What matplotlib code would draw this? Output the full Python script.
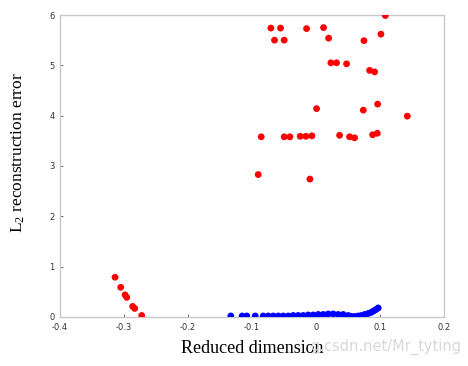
import numpy as np
import matplotlib
matplotlib.use('Agg')
import matplotlib.pyplot as plt

plt.rcParams['mathtext.fontset'] = 'custom'
plt.rcParams['mathtext.rm'] = 'Liberation Serif'
plt.rcParams['mathtext.it'] = 'Liberation Serif:italic'

# red points: high reconstruction error
red_x = [-0.0705, -0.0554, -0.0648, -0.0497, -0.0147, 0.0118, 0.0197, 0.0749,
         0.1083, 0.1015, 0.0233, 0.0322, 0.0478, 0.0838, 0.0916, 0.0009,
         0.0739, 0.0963, 0.1427, -0.0856, -0.0497, -0.0408, -0.0247, -0.0158,
         -0.0064, 0.0369, 0.0525, 0.0603, 0.0885, 0.0958, -0.0903, -0.0095,
         -0.3140, -0.3051, -0.2983, -0.2957, -0.2864, -0.2832, -0.2723]
red_y = [5.74, 5.74, 5.50, 5.50, 5.73, 5.75, 5.54, 5.49,
         5.99, 5.62, 5.05, 5.05, 5.03, 4.90, 4.87, 4.14,
         4.11, 4.23, 3.99, 3.58, 3.58, 3.58, 3.59, 3.59,
         3.60, 3.61, 3.58, 3.56, 3.62, 3.65, 2.83, 2.74,
         0.79, 0.59, 0.44, 0.39, 0.21, 0.17, 0.03]

# blue points: low reconstruction error
blue_x = [-0.1331, -0.1154, -0.1081, -0.0950, -0.0825, -0.0747, -0.0669, -0.0590,
          -0.0512, -0.0434, -0.0356, -0.0278, -0.0200, -0.0121, -0.0043, 0.0035,
          0.0113, 0.0191, 0.0269, 0.0347, 0.0425, 0.0504, 0.0560, 0.0610,
          0.0660, 0.0710, 0.0760, 0.0816, 0.0860, 0.0900, 0.0940, 0.0972]
blue_y = [0.02, 0.02, 0.02, 0.02, 0.02, 0.02, 0.02, 0.02,
          0.02, 0.02, 0.03, 0.03, 0.03, 0.04, 0.04, 0.05,
          0.05, 0.06, 0.06, 0.05, 0.05, 0.03, 0.01, 0.01,
          0.02, 0.03, 0.05, 0.07, 0.09, 0.12, 0.15, 0.18]

xticks = [-0.4, -0.3, -0.2, -0.1, 0, 0.1, 0.2]
xtick_labels = ['-0.4', '-0.3', '-0.2', '-0.1', '0', '0.1', '0.2']
yticks = [0, 1, 2, 3, 4, 5, 6]

fig = plt.figure(figsize=(4.68, 3.66), dpi=100)
ax = fig.add_axes([0.1282, 0.1339, 0.8205, 0.8251])

ax.scatter(red_x, red_y, s=24, color='#ff0000', edgecolors='none', zorder=3)
ax.scatter(blue_x, blue_y, s=24, color='#0000ff', edgecolors='none', zorder=3)

ax.set_xlim(-0.4, 0.2)
ax.set_ylim(0, 6)
ax.set_xticks(xticks)
ax.set_xticklabels(xtick_labels)
ax.set_yticks(yticks)
ax.tick_params(labelsize=6, colors='#333333', length=2, width=0.5,
               direction='in')
ax.tick_params(axis='x', pad=4)
ax.tick_params(axis='y', pad=4)
for s in ax.spines.values():
    s.set_color('#c8c8c8')
    s.set_linewidth(1.0)

ax.set_xlabel('Reduced dimension', family='Liberation Serif', fontsize=13)
ax.xaxis.set_label_coords(0.5, -0.077)
ax.set_ylabel('L$_2$ reconstruction error', family='Liberation Serif',
              fontsize=12.5)
ax.yaxis.set_label_coords(-0.086, 0.545)

# faint watermark
fig.text(0.985, 0.052, 'g.csdn.net/Mr_tyting', ha='right', va='center',
         fontsize=10.5, color='#d8d8d8', zorder=0)

fig.savefig('out.png', dpi=100)
